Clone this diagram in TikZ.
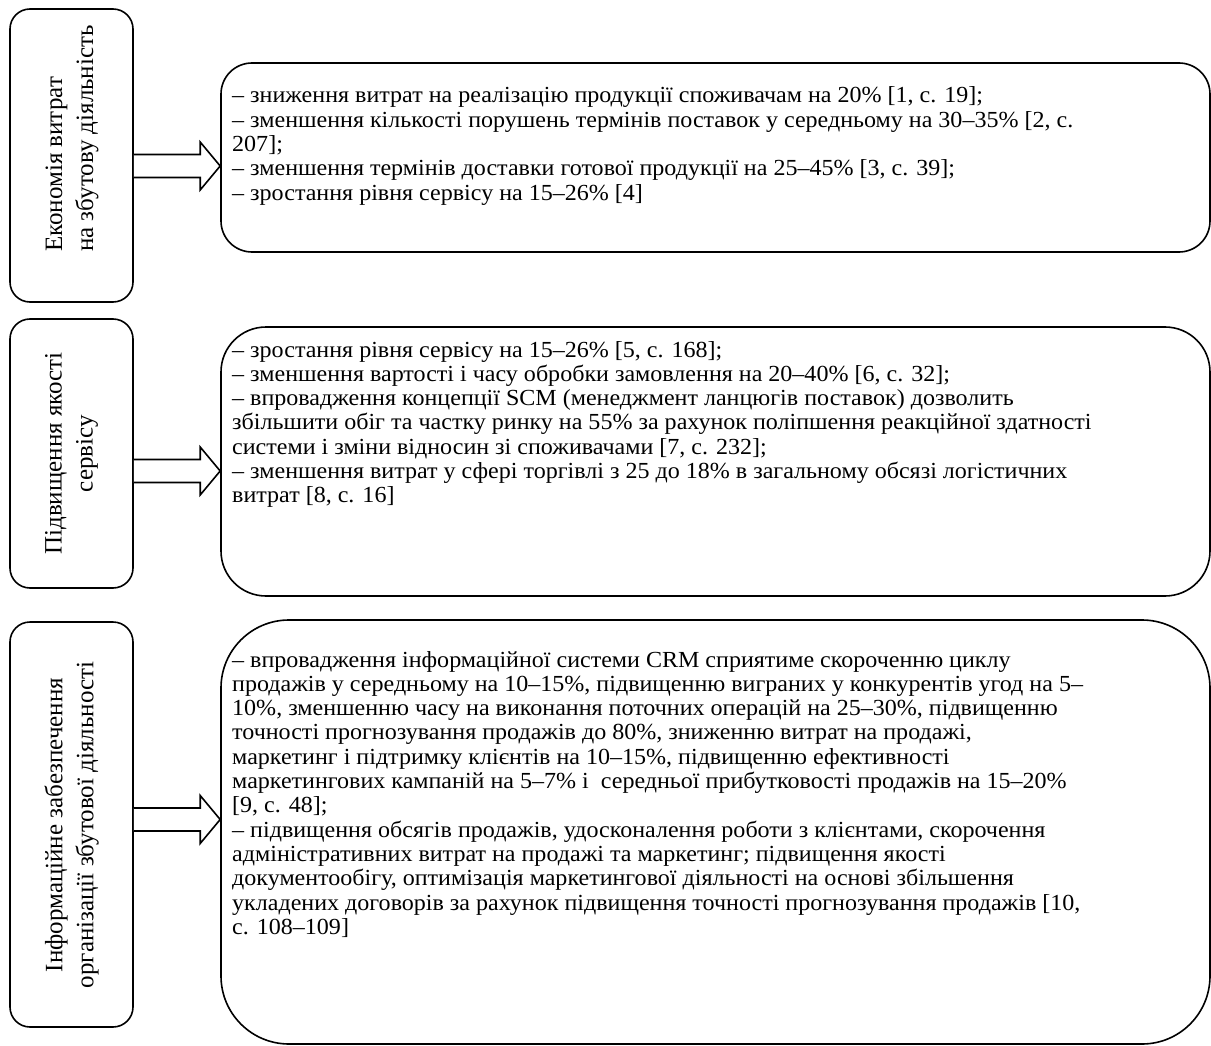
\documentclass[tikz,border=0pt]{standalone}
\usepackage{fontspec}
\setmainfont{Liberation Serif}
\newfontfamily\bodyfont{Liberation Serif}[FakeStretch=1.045]
\usetikzlibrary{calc}
\tikzset{
  leftbox/.style={draw, line width=1.6pt, rounded corners=20pt, minimum width=123pt, inner sep=0pt},
  rightbox/.style={draw, line width=1.6pt, minimum width=989pt, inner sep=0pt},
  bodytext/.style={anchor=base west, inner sep=0pt, font=\bodyfont\fontsize{23}{24.3}\selectfont},
  sidetext/.style={rotate=90, inner sep=0pt, font=\fontsize{25}{31}\selectfont},
  blockarrow/.style={draw, line width=1.6pt, fill=white, line join=miter}
}
\begin{document}
\begin{tikzpicture}[x=1pt,y=-1pt]
\useasboundingbox (0,0) rectangle (1211,1046);
% left boxes
\node[leftbox, minimum height=293pt] (L1) at (71.5,155.5) {};
\node[leftbox, minimum height=269pt] (L2) at (71.5,453.5) {};
\node[leftbox, minimum height=405pt] (L3) at (71.5,824.5) {};
% right boxes
\node[rightbox, rounded corners=31pt, minimum height=189pt] (R1) at (715.5,157.5) {};
\node[rightbox, rounded corners=45pt, minimum height=269pt] (R2) at (715.5,461.5) {};
\node[rightbox, rounded corners=68pt, minimum height=424pt] (R3) at (715.5,832) {};
% side texts
\node[sidetext, anchor=west, align=left] (S1) at (72,252) {Економія витрат\\на збутову діяльність};
\node[sidetext, align=center] (S2) at (L2.center) {Підвищення якості\\сервісу};
\node[sidetext, align=center] (S3) at (71.5,825) {Інформаційне забезпечення\\організації збутової діяльності};
% body texts
\node[bodytext] (T1) at (232,103) {\begin{tabular}[t]{@{}l@{}}– зниження витрат на реалізацію продукції споживачам на 20\% [1, с. 19];\\
– зменшення кількості порушень термінів поставок у середньому на 30–35\% [2, с.\\
207];\\
– зменшення термінів доставки готової продукції на 25–45\% [3, с. 39];\\
– зростання рівня сервісу на 15–26\% [4]\end{tabular}};
\node[bodytext] (T2) at (232,357) {\begin{tabular}[t]{@{}l@{}}– зростання рівня сервісу на 15–26\% [5, с. 168];\\
– зменшення вартості і часу обробки замовлення на 20–40\% [6, с. 32];\\
– впровадження концепції SCM (менеджмент ланцюгів поставок) дозволить\\
збільшити обіг та частку ринку на 55\% за рахунок поліпшення реакційної здатності\\
системи і зміни відносин зі споживачами [7, с. 232];\\
– зменшення витрат у сфері торгівлі з 25 до 18\% в загальному обсязі логістичних\\
витрат [8, с. 16]\end{tabular}};
\node[bodytext] (T3) at (232,667) {\begin{tabular}[t]{@{}l@{}}– впровадження інформаційної системи CRM сприятиме скороченню циклу\\
продажів у середньому на 10–15\%, підвищенню виграних у конкурентів угод на 5–\\
10\%, зменшенню часу на виконання поточних операцій на 25–30\%, підвищенню\\
точності прогнозування продажів до 80\%, зниженню витрат на продажі,\\
маркетинг і підтримку клієнтів на 10–15\%, підвищенню ефективності\\
маркетингових кампаній на 5–7\% і\ \ середньої прибутковості продажів на 15–20\%\\
{[9, с. 48];}\\
– підвищення обсягів продажів, удосконалення роботи з клієнтами, скорочення\\
адміністративних витрат на продажі та маркетинг; підвищення якості\\
документообігу, оптимізація маркетингової діяльності на основі збільшення\\
укладених договорів за рахунок підвищення точності прогнозування продажів [10,\\
с. 108–109]\end{tabular}};
% block arrows
\coordinate (A1) at (R1.west |- 0,166);
\coordinate (A2) at (R2.west |- 0,471);
\coordinate (A3) at (R3.west |- 0,819.5);
\foreach \a/\l in {A1/L1, A2/L2, A3/L3}{
  \draw[blockarrow] (\l.east |- {$(\a)+(0,-11.5)$}) -- ($(\a)+(-20,-11.5)$) -- ($(\a)+(-20,-24)$) -- (\a)
    -- ($(\a)+(-20,24)$) -- ($(\a)+(-20,11.5)$) -- (\l.east |- {$(\a)+(0,11.5)$});
}
\end{tikzpicture}
\end{document}
